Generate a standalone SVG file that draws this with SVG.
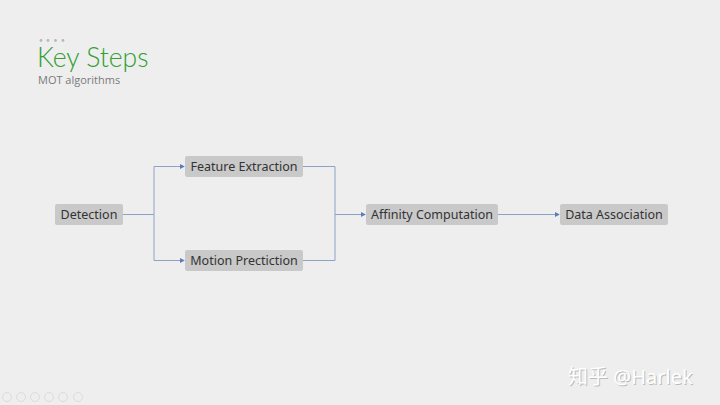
<svg xmlns="http://www.w3.org/2000/svg" width="720" height="405" viewBox="0 0 720 405">
<defs>
<style>
.node rect{fill:#c9c9c9;}
.node text{font-family:"Noto Sans","Open Sans",sans-serif;font-size:12.5px;fill:#333;text-anchor:middle;}
.conn{fill:none;stroke:#8ea2c8;stroke-width:1;}
.icon{fill:none;stroke:#dcdcdc;stroke-width:1;}
</style>
<marker id="arr" viewBox="0 0 6 6" refX="5" refY="3" markerWidth="5" markerHeight="5" orient="auto" markerUnits="userSpaceOnUse">
<path d="M0,0 L6,3 L0,6 Z" fill="#5b7bbf"/>
</marker>
</defs>
<rect width="720" height="405" fill="#eeeeee"/>
<g id="header">
<circle cx="41" cy="40.5" r="1.4" fill="#b8b8b8"/>
<circle cx="48" cy="40.5" r="1.4" fill="#b8b8b8"/>
<circle cx="55.5" cy="40.5" r="1.4" fill="#b8b8b8"/>
<circle cx="63" cy="40.5" r="1.4" fill="#b8b8b8"/>
<text x="37" y="67" font-family="Lato,'Open Sans',sans-serif" font-weight="300" font-size="26.5" fill="#2f9f32">Key Steps</text>
<text x="38" y="84" font-family="'Open Sans','Noto Sans',sans-serif" font-size="11" fill="#7a7a7a">MOT algorithms</text>
</g>
<g id="connectors">
<path class="conn" d="M123,214.5 H154 V166.5 H184" marker-end="url(#arr)"/>
<path class="conn" d="M154,214.5 V260.5 H184" marker-end="url(#arr)"/>
<path class="conn" d="M303,166.5 H335 V260.5 H303"/>
<path class="conn" d="M335,214.5 H365" marker-end="url(#arr)"/>
<path class="conn" d="M498,214.5 H559" marker-end="url(#arr)"/>
</g>
<g id="detection" class="node"><rect x="55" y="204" width="68" height="21" rx="2"/><text x="89" y="219">Detection</text></g>
<g id="feature-extraction" class="node"><rect x="185" y="156" width="118" height="21" rx="2"/><text x="244" y="171">Feature Extraction</text></g>
<g id="motion-prediction" class="node"><rect x="185" y="250" width="118" height="21" rx="2"/><text x="244" y="265">Motion Prectiction</text></g>
<g id="affinity-computation" class="node"><rect x="366" y="204" width="132" height="21" rx="2"/><text x="432" y="219">Affinity Computation</text></g>
<g id="data-association" class="node"><rect x="560" y="204" width="108" height="21" rx="2"/><text x="614" y="219">Data Association</text></g>
<g id="toolbar">
<circle class="icon" cx="7" cy="397" r="4.5"/>
<circle class="icon" cx="21" cy="397" r="4.5"/>
<circle class="icon" cx="35" cy="397" r="4.5"/>
<circle class="icon" cx="49" cy="397" r="4.5"/>
<circle class="icon" cx="63" cy="397" r="4.5"/>
<circle class="icon" cx="78" cy="397" r="4.5"/>
</g>
<g id="watermark">
<text x="568" y="384" font-family="'Noto Sans','Noto Sans CJK SC',sans-serif" font-size="20" fill="#9a9a9a" opacity="0.6" transform="translate(1,1)">知乎 @Harlek</text>
<text x="568" y="384" font-family="'Noto Sans','Noto Sans CJK SC',sans-serif" font-size="20" fill="#ffffff">知乎 @Harlek</text>
</g>
</svg>
